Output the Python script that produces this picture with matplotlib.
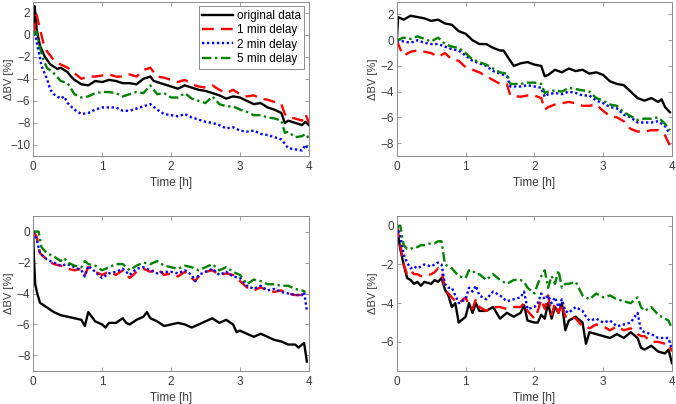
#!/usr/bin/env python3
import matplotlib
matplotlib.use('Agg')
import matplotlib.pyplot as plt

# ---- panel (a): top left ----
a_orig_t = [0, 0.02, 0.04, 0.05, 0.1, 0.17, 0.25, 0.35, 0.4, 0.5, 0.55, 0.6, 0.7, 0.8, 0.9, 1.0, 1.1, 1.2,
            1.3, 1.4, 1.5, 1.6, 1.7, 1.75, 1.8, 1.9, 2.0, 2.1, 2.2, 2.3, 2.4, 2.5, 2.6, 2.7, 2.8, 2.9, 3.0,
            3.1, 3.2, 3.3, 3.4, 3.5, 3.6, 3.65, 3.7, 3.8, 3.9, 3.95, 4.0]
a_orig_v = [0, 2.6, 1.5, 0.5, -1.0, -2.0, -2.7, -3.1, -3.0, -3.4, -3.8, -4.1, -4.5, -4.6, -4.2, -4.3, -4.1, -4.2,
            -4.4, -4.4, -4.5, -4.0, -3.8, -4.2, -4.3, -4.5, -4.7, -4.9, -4.6, -4.8, -5.0, -5.1, -5.3, -5.5, -5.8,
            -5.6, -5.7, -6.0, -6.3, -6.2, -6.6, -6.8, -7.1, -8.0, -7.8, -8.0, -8.2, -7.9, -8.2]
a_d1_t = [0, 0.05, 0.1, 0.15, 0.2, 0.3, 0.4, 0.5, 0.6, 0.7, 0.8, 0.9, 1.0, 1.1, 1.2, 1.3, 1.4, 1.5, 1.6, 1.7,
          1.8, 1.9, 2.0, 2.1, 2.2, 2.3, 2.4, 2.5, 2.6, 2.7, 2.8, 2.9, 3.0, 3.1, 3.2, 3.3, 3.4, 3.5, 3.6, 3.65,
          3.7, 3.8, 3.9, 3.95, 4.0]
a_d1_v = [0, 1.8, 0.5, -0.8, -1.5, -2.3, -2.7, -3.0, -3.5, -4.0, -3.8, -3.8, -3.7, -3.6, -3.8, -3.8, -3.6, -3.8,
          -3.2, -3.0, -3.8, -3.9, -4.1, -4.3, -4.1, -4.5, -4.7, -4.8, -4.6, -5.0, -5.3, -5.0, -5.4, -5.6, -5.5,
          -5.8, -5.9, -6.1, -6.3, -7.2, -7.5, -7.6, -7.8, -7.2, -8.0]
a_d2_t = [0, 0.03, 0.08, 0.12, 0.2, 0.25, 0.3, 0.4, 0.45, 0.5, 0.6, 0.7, 0.8, 0.9, 1.0, 1.1, 1.2, 1.3, 1.4,
          1.5, 1.6, 1.7, 1.8, 1.9, 2.0, 2.1, 2.2, 2.3, 2.4, 2.5, 2.6, 2.7, 2.8, 2.9, 3.0, 3.1, 3.2, 3.3, 3.4,
          3.5, 3.6, 3.7, 3.8, 3.9, 3.95, 4.0]
a_d2_v = [0, 0, -1.5, -2.8, -4.0, -5.0, -5.4, -5.8, -5.6, -6.2, -6.8, -7.2, -7.1, -6.8, -6.6, -6.6, -6.6, -6.9,
          -6.9, -6.7, -6.5, -6.3, -6.8, -7.2, -7.3, -7.4, -7.2, -7.5, -7.7, -7.9, -8.0, -8.2, -8.5, -8.4, -8.7,
          -8.8, -8.7, -9.0, -9.1, -9.3, -9.5, -10.3, -10.4, -10.5, -10.0, -10.5]
a_d5_t = [0, 0.05, 0.1, 0.15, 0.2, 0.3, 0.4, 0.5, 0.6, 0.7, 0.8, 0.9, 1.0, 1.1, 1.2, 1.3, 1.4, 1.5, 1.6, 1.7,
          1.8, 1.9, 2.0, 2.1, 2.2, 2.3, 2.4, 2.5, 2.6, 2.7, 2.8, 2.9, 3.0, 3.1, 3.2, 3.3, 3.4, 3.5, 3.6, 3.65,
          3.7, 3.8, 3.9, 3.95, 4.0]
a_d5_v = [0, 0.3, -1.2, -2.3, -3.0, -3.5, -4.2, -4.4, -5.4, -5.7, -5.6, -5.3, -5.2, -5.2, -5.3, -5.6, -5.4, -5.2,
          -5.3, -4.6, -5.4, -5.3, -5.7, -5.7, -5.3, -5.8, -6.0, -6.2, -5.6, -6.3, -6.5, -6.5, -6.8, -7.0, -7.3,
          -7.3, -7.5, -7.6, -7.8, -8.9, -8.8, -9.3, -9.2, -9.0, -9.4]

# ---- panel (b): top right ----
b_orig_t = [0, 0.02, 0.1, 0.2, 0.3, 0.4, 0.5, 0.6, 0.7, 0.8, 0.9, 1.0, 1.1, 1.2, 1.3, 1.4, 1.5, 1.55, 1.6, 1.7,
            1.8, 1.9, 2.0, 2.1, 2.15, 2.2, 2.3, 2.4, 2.5, 2.6, 2.7, 2.8, 2.9, 3.0, 3.1, 3.2, 3.3, 3.4, 3.5,
            3.6, 3.7, 3.8, 3.85, 3.9, 3.97]
b_orig_v = [0, 1.8, 1.6, 1.9, 1.8, 1.7, 1.5, 1.6, 1.3, 1.2, 0.7, 0.5, 0.0, -0.3, -0.3, -0.6, -0.8, -0.8, -1.2,
            -2.0, -1.8, -1.7, -1.9, -2.0, -2.8, -2.7, -2.3, -2.5, -2.2, -2.4, -2.3, -2.6, -2.5, -2.7, -3.2, -3.4,
            -3.5, -4.0, -4.5, -4.7, -4.5, -4.8, -4.6, -5.2, -5.6]
b_d_t = [0, 0.05, 0.1, 0.2, 0.3, 0.4, 0.5, 0.6, 0.7, 0.8, 0.9, 1.0, 1.1, 1.2, 1.3, 1.4, 1.5, 1.6, 1.65, 1.8,
         1.9, 2.0, 2.1, 2.15, 2.2, 2.3, 2.4, 2.5, 2.6, 2.7, 2.8, 2.9, 3.0, 3.1, 3.2, 3.3, 3.4, 3.5, 3.6, 3.7,
         3.8, 3.9, 3.97]
b_d1_v = [0, -0.7, -1.2, -0.9, -0.8, -0.9, -1.0, -1.3, -1.0, -1.5, -1.6, -2.1, -2.3, -2.5, -2.8, -3.1, -3.4, -3.4,
          -4.3, -4.4, -4.3, -4.3, -4.5, -5.4, -5.2, -5.0, -4.9, -4.8, -4.9, -5.1, -5.1, -5.0, -5.5, -5.9, -6.0,
          -6.3, -6.9, -7.1, -7.1, -7.0, -7.0, -7.4, -8.2]
b_d2_v = [0, -0.05, -0.1, -0.2, 0.0, -0.2, -0.3, -0.3, -0.5, -0.7, -0.8, -1.2, -1.6, -1.8, -2.0, -2.4, -2.6, -2.8,
          -3.6, -3.6, -3.5, -3.6, -3.7, -4.4, -4.2, -4.1, -4.2, -4.0, -4.1, -4.3, -4.3, -4.7, -4.9, -5.2, -5.3,
          -5.8, -6.0, -6.4, -6.4, -6.4, -6.3, -6.7, -7.3]
b_d5_v = [0, 0.1, 0.2, 0.1, 0.3, 0.1, -0.1, 0.2, -0.3, -0.5, -0.6, -1.0, -1.5, -1.7, -1.9, -2.2, -2.5, -2.6,
          -3.4, -3.4, -3.3, -3.3, -3.4, -4.1, -4.0, -3.9, -4.0, -3.7, -3.8, -3.9, -4.0, -4.5, -4.7, -5.0, -5.1,
          -5.6, -5.9, -6.2, -6.1, -6.1, -6.0, -6.5, -7.0]

# ---- panel (c): bottom left ----
c_orig_t = [0, 0.01, 0.03, 0.06, 0.1, 0.2, 0.3, 0.4, 0.5, 0.6, 0.7, 0.75, 0.8, 0.9, 1.0, 1.05, 1.1, 1.2, 1.3,
            1.35, 1.4, 1.5, 1.6, 1.65, 1.7, 1.8, 1.9, 2.0, 2.1, 2.2, 2.3, 2.4, 2.5, 2.6, 2.7, 2.8, 2.9, 2.95,
            3.0, 3.1, 3.2, 3.3, 3.4, 3.5, 3.6, 3.7, 3.8, 3.85, 3.9, 3.93, 3.97]
c_orig_v = [0, -1.5, -3.4, -4.0, -4.6, -4.9, -5.2, -5.4, -5.5, -5.6, -5.7, -6.1, -5.2, -5.8, -6.0, -6.2, -5.9,
            -5.9, -5.6, -5.9, -6.0, -5.7, -5.5, -5.2, -5.6, -5.8, -6.1, -6.0, -5.9, -6.0, -6.2, -6.0, -5.8, -5.6,
            -5.9, -5.7, -6.0, -6.5, -6.4, -6.6, -6.8, -6.6, -6.8, -7.0, -7.1, -7.3, -7.3, -7.5, -7.3, -7.2, -8.4]
c_d_t = [0, 0.05, 0.1, 0.2, 0.3, 0.4, 0.5, 0.6, 0.7, 0.75, 0.8, 0.9, 1.0, 1.1, 1.2, 1.3, 1.4, 1.5, 1.6, 1.7,
         1.8, 1.9, 2.0, 2.1, 2.2, 2.3, 2.35, 2.4, 2.5, 2.6, 2.7, 2.8, 2.9, 3.0, 3.1, 3.2, 3.3, 3.4, 3.5, 3.6,
         3.7, 3.8, 3.9]
c_d1_v = [0, -0.3, -1.4, -1.8, -2.1, -2.2, -2.4, -2.5, -2.4, -2.8, -2.3, -2.6, -2.8, -2.6, -2.8, -2.5, -3.0, -2.6,
          -2.4, -2.6, -2.4, -2.8, -2.7, -2.9, -2.6, -3.0, -3.2, -2.9, -2.6, -2.5, -2.8, -2.7, -2.8, -3.2, -3.6,
          -3.8, -3.6, -3.8, -3.9, -3.8, -4.0, -4.1, -4.1]
c_d2_t = c_d_t + [3.93, 3.97]
c_d2_v = [0, -0.5, -1.4, -1.8, -2.0, -2.2, -2.1, -2.3, -2.5, -2.9, -2.2, -2.6, -3.0, -2.7, -2.6, -2.4, -2.8, -2.4,
          -2.3, -2.5, -2.7, -2.6, -2.6, -2.7, -2.5, -2.8, -3.2, -2.8, -2.6, -2.4, -2.8, -2.6, -2.9, -3.0, -3.5,
          -3.7, -3.5, -3.8, -3.7, -3.9, -4.0, -4.1, -4.1, -3.9, -5.1]
c_d5_t = [0, 0.08, 0.12, 0.2, 0.3, 0.4, 0.45, 0.5, 0.6, 0.7, 0.75, 0.8, 0.9, 1.0, 1.1, 1.2, 1.3, 1.4, 1.5, 1.6,
          1.7, 1.8, 1.9, 2.0, 2.1, 2.2, 2.3, 2.4, 2.5, 2.6, 2.7, 2.8, 2.9, 3.0, 3.1, 3.2, 3.3, 3.4, 3.5, 3.6,
          3.7, 3.8, 3.9, 3.95]
c_d5_v = [0, 0, -1.0, -1.4, -1.6, -1.9, -1.7, -2.0, -2.2, -2.3, -1.9, -2.1, -2.2, -2.5, -2.3, -2.1, -2.1, -2.5,
          -2.2, -2.0, -2.1, -1.9, -2.2, -2.3, -2.4, -2.2, -2.3, -2.5, -2.3, -2.1, -2.5, -2.3, -2.6, -2.8, -3.4,
          -3.1, -3.2, -3.4, -3.4, -3.5, -3.5, -3.7, -3.8, -3.9]

# ---- panel (d): bottom right ----
d_t = [0, 0.05, 0.1, 0.15, 0.2, 0.25, 0.3, 0.35, 0.4, 0.5, 0.55, 0.6, 0.65, 0.7, 0.75, 0.8, 0.85, 0.9, 1.0,
       1.05, 1.1, 1.15, 1.2, 1.3, 1.4, 1.5, 1.6, 1.7, 1.8, 1.85, 1.9, 2.0, 2.05, 2.1, 2.15, 2.2, 2.25, 2.3,
       2.35, 2.4, 2.45, 2.5, 2.6, 2.7, 2.75, 2.8, 2.9, 3.0, 3.1, 3.2, 3.3, 3.4, 3.5, 3.55, 3.6, 3.7, 3.8,
       3.9, 3.95, 4.0]
d_orig_v = [0, -1.2, -2.0, -2.7, -2.8, -3.0, -2.9, -3.1, -2.9, -3.0, -2.8, -2.9, -2.7, -3.3, -3.6, -4.2, -4.0,
            -5.0, -4.7, -4.0, -4.5, -4.0, -4.4, -4.4, -4.2, -4.8, -4.5, -4.7, -4.5, -4.1, -4.9, -5.0, -5.0, -4.6,
            -4.8, -4.0, -4.8, -4.2, -4.5, -4.0, -5.4, -4.9, -4.7, -5.0, -6.1, -5.5, -5.6, -5.7, -5.8, -5.6, -5.8,
            -5.5, -5.8, -6.3, -6.4, -6.2, -6.5, -6.6, -6.4, -7.1]
d_d1_v = [0, -1.0, -2.0, -2.5, -2.3, -2.5, -2.5, -2.6, -2.6, -2.5, -2.4, -2.2, -2.3, -3.3, -3.5, -3.7, -3.9,
          -4.0, -3.7, -4.1, -4.3, -3.8, -4.2, -4.4, -4.2, -4.2, -4.3, -4.2, -4.2, -4.0, -4.4, -4.8, -4.4, -3.8,
          -4.3, -3.6, -4.6, -4.0, -4.5, -4.0, -4.7, -4.6, -4.8, -5.2, -5.2, -5.3, -5.1, -5.2, -5.4, -5.2, -5.4,
          -5.3, -5.6, -5.7, -5.7, -6.0, -6.0, -6.1, -6.1, -6.5]
d_d2_v = [0, -0.5, -1.5, -1.9, -2.2, -2.1, -2.2, -2.1, -2.0, -2.1, -2.0, -1.9, -2.0, -3.0, -3.2, -3.2, -3.6,
          -4.0, -3.8, -3.2, -3.4, -3.1, -3.6, -3.8, -3.4, -3.6, -3.9, -3.8, -3.7, -3.4, -4.3, -4.2, -4.0, -3.5,
          -3.8, -3.6, -4.0, -3.7, -4.2, -3.8, -4.4, -4.5, -4.2, -4.4, -4.7, -4.9, -4.8, -5.0, -4.9, -5.2, -5.1,
          -5.0, -4.5, -5.4, -5.5, -5.6, -5.8, -5.8, -5.8, -6.4]
d_d5_v = [0, 0, -1.0, -1.2, -1.2, -1.1, -1.1, -1.0, -1.0, -0.9, -0.9, -0.8, -0.8, -2.0, -2.1, -2.2, -2.4,
          -2.6, -2.7, -2.3, -2.3, -2.5, -2.5, -2.8, -2.5, -2.8, -3.0, -2.8, -2.8, -2.9, -3.2, -3.5, -3.0, -2.6,
          -2.3, -3.2, -2.6, -3.0, -2.3, -3.2, -3.0, -3.0, -2.9, -3.6, -3.7, -3.8, -3.5, -3.7, -3.6, -3.8, -3.9,
          -4.0, -3.7, -4.2, -4.4, -4.2, -4.6, -4.8, -4.9, -5.3]

labels = ['original data', '1 min delay', '2 min delay', '5 min delay']

panels = [
    {'series': [(a_orig_t, a_orig_v), (a_d1_t, a_d1_v), (a_d2_t, a_d2_v), (a_d5_t, a_d5_v)],
     'ylim': (-11, 3), 'yticks': [-10, -8, -6, -4, -2, 0, 2], 'legend': True},
    {'series': [(b_orig_t, b_orig_v), (b_d_t, b_d1_v), (b_d_t, b_d2_v), (b_d_t, b_d5_v)],
     'ylim': (-9, 3), 'yticks': [-8, -6, -4, -2, 0, 2], 'legend': False},
    {'series': [(c_orig_t, c_orig_v), (c_d_t, c_d1_v), (c_d2_t, c_d2_v), (c_d5_t, c_d5_v)],
     'ylim': (-9, 1), 'yticks': [-8, -6, -4, -2, 0], 'legend': False},
    {'series': [(d_t, d_orig_v), (d_t, d_d1_v), (d_t, d_d2_v), (d_t, d_d5_v)],
     'ylim': (-7.5, 0.5), 'yticks': [-6, -4, -2, 0], 'legend': False},
]

styles = [
    dict(color='black', linestyle='-', linewidth=1.7),
    dict(color=(1, 0, 0), linestyle=(0, (5, 3)), linewidth=1.7),
    dict(color=(0, 0, 1), linestyle=(0, (1, 1.1)), linewidth=1.7),
    dict(color=(0, 0.5, 0), linestyle=(0, (4, 1.5, 1, 1.5)), linewidth=1.7),
]

plt.rcParams['font.family'] = ['Liberation Sans', 'DejaVu Sans']
fs = 8.5
text_col = '#3a3a3a'
edge_col = '#8c8c8c'

fig = plt.figure(figsize=(6.76, 4.04), dpi=100)
positions = [
    [0.049, 0.614, 0.408, 0.382],
    [0.587, 0.614, 0.407, 0.382],
    [0.049, 0.082, 0.408, 0.383],
    [0.587, 0.082, 0.407, 0.383],
]

for pos, p in zip(positions, panels):
    ax = fig.add_axes(pos)
    for (t, v), st, lab in zip(p['series'], styles, labels):
        ax.plot(t, v, label=lab, **st)
    ax.set_xlim(0, 4)
    ax.set_ylim(*p['ylim'])
    ax.set_xticks([0, 1, 2, 3, 4])
    ax.set_yticks(p['yticks'])
    ax.tick_params(direction='in', top=True, right=True, length=3, width=0.6,
                   colors=edge_col, labelcolor=text_col, labelsize=fs, pad=2)
    ax.tick_params(axis='x', pad=4)
    for s in ax.spines.values():
        s.set_color(edge_col)
        s.set_linewidth(0.7)
    ax.set_xlabel('Time [h]', color=text_col, fontsize=fs, labelpad=2.5)
    ax.set_ylabel('ΔBV [%]', color=text_col, fontsize=8)
    ax.yaxis.set_label_coords(-0.07, 0.5)
    if p['legend']:
        leg = ax.legend(loc='upper right', fontsize=fs, frameon=True, fancybox=False,
                        edgecolor=edge_col, framealpha=1, handlelength=2.6,
                        borderpad=0.3, labelspacing=0.2, handletextpad=0.3,
                        borderaxespad=0.4)
        leg.get_frame().set_linewidth(0.7)
        for txt in leg.get_texts():
            txt.set_color('black')

fig.savefig('out.png', dpi=100)
